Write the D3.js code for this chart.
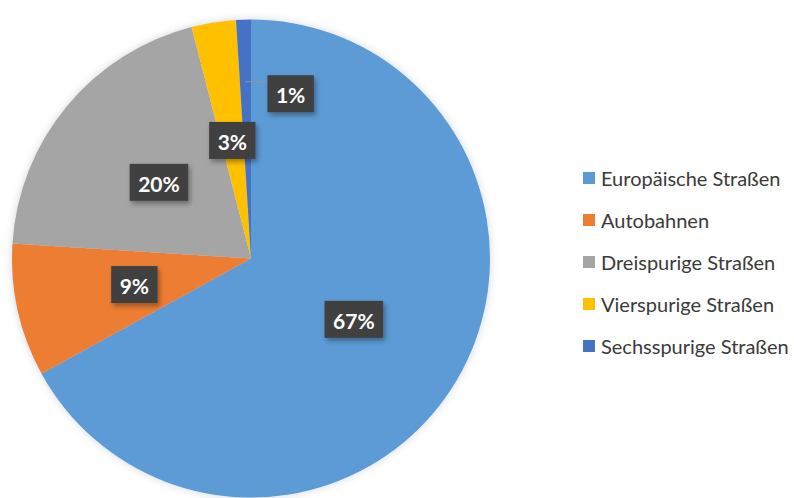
<!DOCTYPE html>
<html>
<head>
<meta charset="utf-8">
<script src="https://cdn.jsdelivr.net/npm/d3@7"></script>
<style>
  html, body { margin: 0; padding: 0; background: #ffffff; }
  svg { display: block; }
</style>
</head>
<body>
<svg id="chart" width="794" height="498"></svg>
<script>
// Road types and their share of the network (percent)
const categories = [
  "Europäische Straßen",
  "Autobahnen",
  "Dreispurige Straßen",
  "Vierspurige Straßen",
  "Sechsspurige Straßen"
];
const shares = [67, 9, 20, 3, 1];
const colors = ["#5B9BD5", "#ED7D31", "#A5A5A5", "#FFC000", "#4472C4"];

const W = 794, H = 498;
const cx = 251, cy = 258.5, R = 239;

const svg = d3.select("#chart");
const defs = svg.append("defs");

// soft halo around the pie
const halo = defs.append("filter").attr("id", "pieShadow")
  .attr("x", "-10%").attr("y", "-10%").attr("width", "120%").attr("height", "120%");
halo.append("feDropShadow").attr("dx", 0).attr("dy", 0).attr("stdDeviation", 4)
  .attr("flood-color", "#9aa6b4").attr("flood-opacity", 0.45);

// shadow under the value boxes
const boxShadow = defs.append("filter").attr("id", "boxShadow")
  .attr("x", "-30%").attr("y", "-30%").attr("width", "160%").attr("height", "160%");
boxShadow.append("feDropShadow").attr("dx", 2).attr("dy", 3).attr("stdDeviation", 2.5)
  .attr("flood-color", "#000").attr("flood-opacity", 0.35);

const color = d3.scaleOrdinal().domain(categories).range(colors);

const pie = d3.pie().sort(null).value(d => d.value).startAngle(0).endAngle(2 * Math.PI);
const data = pie(categories.map((c, i) => ({ name: c, value: shares[i] })));
const total = d3.sum(shares);

const arc = d3.arc().innerRadius(0).outerRadius(R);
const labelArc = d3.arc().innerRadius(R * 0.5).outerRadius(R * 0.5);
const outerLabelArc = d3.arc().innerRadius(R * 0.74).outerRadius(R * 0.74);

const g = svg.append("g").attr("transform", `translate(${cx},${cy})`);

g.append("g").attr("filter", "url(#pieShadow)")
  .selectAll("path").data(data).join("path")
  .attr("d", arc)
  .attr("fill", d => color(d.data.name));

// value labels
const labels = g.append("g")
  .style("font-family", "Lato, 'Open Sans', sans-serif")
  .style("font-weight", "700")
  .style("font-size", "21px");

data.forEach(d => {
  const pct = Math.round(d.data.value / total * 100) + "%";
  const small = (d.endAngle - d.startAngle) < 0.1;
  let x, y;
  const lab = labels.append("g");
  if (small) {
    // thin slice: label pulled out to the right with a leader line
    const [ax, ay] = outerLabelArc.centroid(d);
    lab.append("line")
      .attr("x1", ax).attr("y1", ay).attr("x2", ax + 22).attr("y2", ay)
      .attr("stroke", "#8c97a3").attr("stroke-width", 1);
    y = ay + 12;
    x = ax + 22;
  } else {
    [x, y] = labelArc.centroid(d);
  }
  const t = lab.append("text").text(pct)
    .attr("fill", "#ffffff")
    .attr("text-anchor", small ? "start" : "middle")
    .attr("dominant-baseline", "central");
  const w = t.node().getComputedTextLength();
  const padX = 8.5, bh = 37;
  const bx = small ? x : x - w / 2 - padX;
  lab.insert("rect", "text")
    .attr("x", bx).attr("y", y - bh / 2)
    .attr("width", w + 2 * padX).attr("height", bh)
    .attr("fill", "#404040")
    .attr("filter", "url(#boxShadow)");
  t.attr("x", small ? x + padX : x).attr("y", y + 1);
});

// legend
const legend = svg.append("g").attr("transform", "translate(583,178)")
  .style("font-family", "Lato, 'Open Sans', sans-serif")
  .style("font-size", "20px");

const row = legend.selectAll("g").data(categories).join("g")
  .attr("transform", (d, i) => `translate(0,${i * 42})`);
row.append("rect")
  .attr("x", 0).attr("y", -6).attr("width", 12).attr("height", 12)
  .attr("fill", d => color(d));
row.append("text")
  .attr("x", 18).attr("y", 0)
  .attr("dominant-baseline", "central")
  .attr("fill", "#3a3a3a")
  .text(d => d);
</script>
</body>
</html>
